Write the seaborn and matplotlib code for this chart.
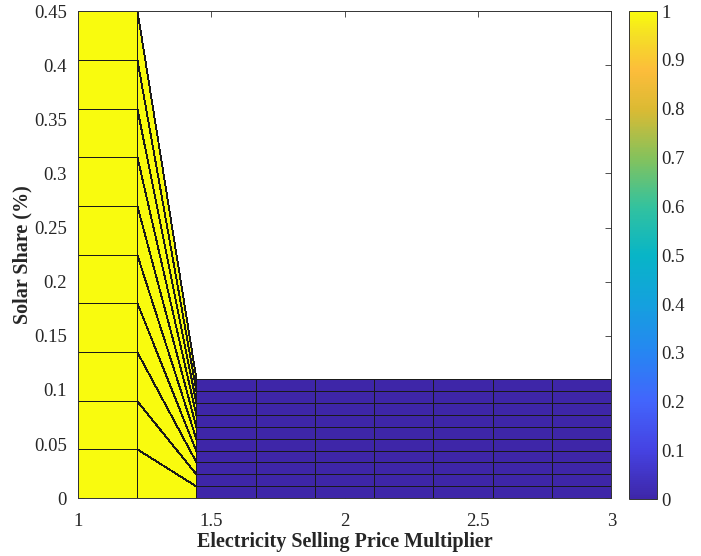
import numpy as np
import matplotlib
matplotlib.use("Agg")
import matplotlib.pyplot as plt
from matplotlib.colors import LinearSegmentedColormap
import seaborn as sns

# price multiplier grid (x vertices)
price_multiplier = [1.0, 1.222, 1.444, 1.667, 1.889, 2.111, 2.333, 2.556, 2.778, 3.0]
# solar share levels for the first two columns and for the rest
share_levels_high = [0, 0.045, 0.09, 0.135, 0.18, 0.225, 0.27, 0.315, 0.36, 0.405, 0.45]
share_levels_low = [0, 0.011, 0.022, 0.033, 0.044, 0.055, 0.066, 0.077, 0.088, 0.099, 0.11]
column_uses_high = [True, True, False, False, False, False, False, False, False, False]
# cell value per column (1 = solar chosen, 0 = not)
cell_value = [1, 1, 0, 0, 0, 0, 0, 0, 0]

xticks = [1, 1.5, 2, 2.5, 3]
yticks = [0, 0.05, 0.1, 0.15, 0.2, 0.25, 0.3, 0.35, 0.4, 0.45]
cbar_ticks = [0, 0.1, 0.2, 0.3, 0.4, 0.5, 0.6, 0.7, 0.8, 0.9, 1]

# rough parula
parula = LinearSegmentedColormap.from_list("parula", [
    (0.00, (0.2422, 0.1504, 0.6603)),
    (0.10, (0.2720, 0.2620, 0.8880)),
    (0.20, (0.2600, 0.3950, 0.9900)),
    (0.30, (0.1500, 0.5250, 0.9500)),
    (0.40, (0.0800, 0.6300, 0.8700)),
    (0.50, (0.0300, 0.7100, 0.7800)),
    (0.60, (0.2000, 0.7600, 0.6200)),
    (0.70, (0.5200, 0.7600, 0.3600)),
    (0.80, (0.8600, 0.7300, 0.2000)),
    (0.88, (0.9900, 0.7400, 0.2300)),
    (0.95, (0.9600, 0.8700, 0.1500)),
    (1.00, (0.9763, 0.9831, 0.0538)),
])

sns.set_style("ticks")
plt.rcParams['font.family'] = ['Liberation Serif', 'DejaVu Serif']

X = np.array([price_multiplier] * len(share_levels_high))
Y = np.array([share_levels_high if h else share_levels_low for h in column_uses_high]).T
C = np.array([cell_value] * (len(share_levels_high) - 1))

fig = plt.figure(figsize=(7.01, 5.56), dpi=100)
ax = fig.add_axes([0.111, 0.104, 0.761, 0.876])
cax = fig.add_axes([0.897, 0.102, 0.040, 0.878])

mesh = ax.pcolormesh(X, Y, C, cmap=parula, vmin=0, vmax=1, shading='flat',
                     edgecolors='#1a1a1a', linewidth=0.6)
ax.set_xlim(1, 3)
ax.set_ylim(0, 0.45)
ax.set_xticks(xticks)
ax.set_xticklabels(['1', '1.5', '2', '2.5', '3'])
ax.set_yticks(yticks)
ax.set_yticklabels(['0', '0.05', '0.1', '0.15', '0.2', '0.25', '0.3', '0.35', '0.4', '0.45'])
ax.tick_params(direction='in', top=True, right=True, labelsize=13.5, length=4,
               width=0.6, color='#333333')
ax.tick_params(axis='x', pad=11)
ax.tick_params(axis='y', pad=8)
for s in ax.spines.values():
    s.set_linewidth(0.7)
    s.set_color('#333333')
ax.set_xlabel('Electricity Selling Price Multiplier', fontsize=14.5, fontweight='bold', labelpad=1)
ax.set_ylabel('Solar Share (%)', fontsize=14.5, fontweight='bold', labelpad=1)

cb = fig.colorbar(mesh, cax=cax, ticks=cbar_ticks)
cb.ax.set_yticklabels(['0', '0.1', '0.2', '0.3', '0.4', '0.5', '0.6', '0.7', '0.8', '0.9', '1'])
cb.ax.tick_params(direction='in', labelsize=13.5, length=4, width=0.6, color='#333333', pad=3)
cb.outline.set_linewidth(0.7)
cb.outline.set_edgecolor('#333333')

fig.savefig('out.png', dpi=100)
